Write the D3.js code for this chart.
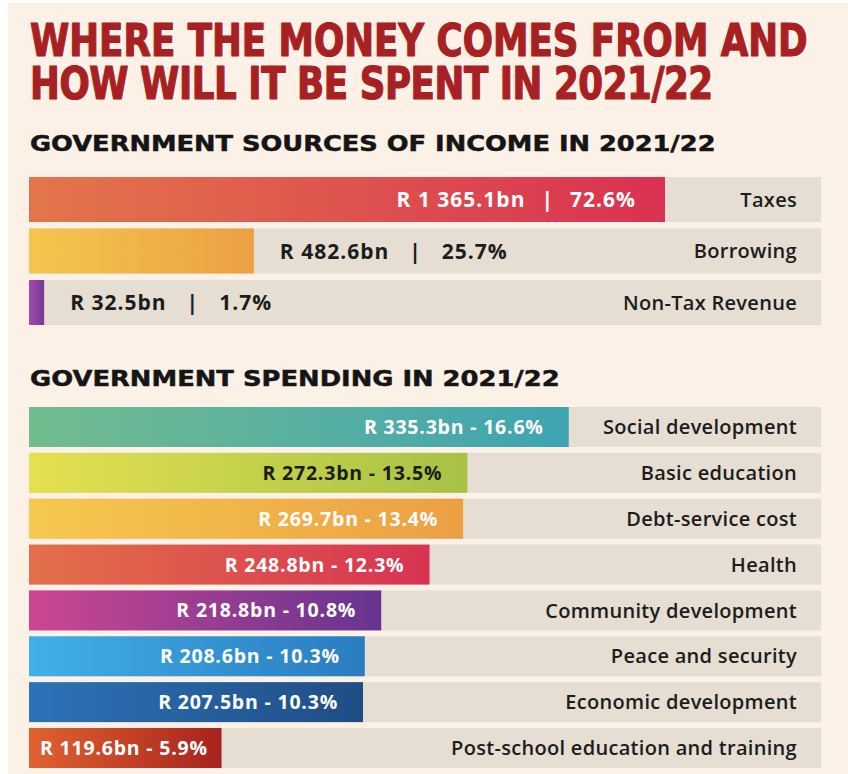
<!DOCTYPE html>
<html>
<head>
<meta charset="utf-8">
<script src="https://cdn.jsdelivr.net/npm/d3@7"></script>
<style>
  html, body { margin: 0; padding: 0; background: #ffffff; }
  svg { display: block; }
</style>
</head>
<body>
<svg id="chart" width="848" height="774"></svg>
<script>
// ---------- DATA ----------
const titleLines = ["WHERE THE MONEY COMES FROM AND", "HOW WILL IT BE SPENT IN 2021/22"];
const incomeHeading = "GOVERNMENT SOURCES OF INCOME IN 2021/22";
const spendingHeading = "GOVERNMENT SPENDING IN 2021/22";

const incomeCategories = ["Taxes", "Borrowing", "Non-Tax Revenue"];
const incomeValues = [1365.1, 482.6, 32.5];   // R billion
const incomeShares = [72.6, 25.7, 1.7];       // %

const spendingCategories = [
  "Social development", "Basic education", "Debt-service cost", "Health",
  "Community development", "Peace and security", "Economic development",
  "Post-school education and training"
];
const spendingValues = [335.3, 272.3, 269.7, 248.8, 218.8, 208.6, 207.5, 119.6]; // R billion
const spendingShares = [16.6, 13.5, 13.4, 12.3, 10.8, 10.3, 10.3, 5.9];          // %

// ---------- STYLE ----------
const incomeGradients = [
  ["#e2764a", "#da3152"],
  ["#f5c64e", "#eba043"],
  ["#a44aa6", "#74379a"]
];
const incomeLabelColors = ["#ffffff", "#1c1c1c", "#1c1c1c"];

const spendingGradients = [
  ["#72bc8e", "#3ea4b2"],
  ["#e4e050", "#a6c245"],
  ["#f6c84f", "#eb9f43"],
  ["#e2704a", "#d83352"],
  ["#cd4692", "#663490"],
  ["#40b0e8", "#2a7cc0"],
  ["#2d73b8", "#1f4d86"],
  ["#e1622f", "#a6231f"]
];
const spendingLabelColors = ["#ffffff", "#1c1c1c", "#ffffff", "#ffffff", "#ffffff", "#ffffff", "#ffffff", "#ffffff"];

const svg = d3.select("#chart");
const W = 848, H = 774;
const trackX0 = 29, trackX1 = 821;
const catRight = 797;
const labelFont = "'Open Sans', 'Noto Sans', sans-serif";
const titleFont = "'Liberation Sans Narrow', 'DejaVu Sans Condensed', 'Arial Narrow', sans-serif";

const locale = d3.formatLocale({decimal: ".", thousands: " ", grouping: [3], currency: ["R ", ""]});
const fmtBn = locale.format(",.1f");

const defs = svg.append("defs");

// background
svg.append("rect").attr("x", 0).attr("y", 0).attr("width", W).attr("height", H).attr("fill", "#ffffff");
svg.append("rect").attr("x", 8).attr("y", 3).attr("width", W - 8).attr("height", H - 3).attr("fill", "#fcf1e7");

// stretch a text horizontally so that it spans the given width
function fitText(sel, x, y, width) {
  sel.attr("x", 0).attr("y", 0);
  const len = sel.node().getComputedTextLength();
  sel.attr("transform", `translate(${x},${y}) scale(${width / len},1)`);
}

// title: one text element, two lines
const titleSize = 45;
const titleWidths = [778, 683];
function measure(txt) {
  const tmp = svg.append("text").attr("font-family", titleFont).attr("font-weight", "bold")
    .attr("font-size", titleSize).text(txt);
  const w = tmp.node().getComputedTextLength();
  tmp.remove();
  return w;
}
const n1 = measure(titleLines[0]);
const n2 = measure(titleLines[1]);
const sx = titleWidths[0] / n1;
const ls2 = (titleWidths[1] / sx - n2) / titleLines[1].length;
const title = svg.append("text")
  .attr("transform", `translate(30,56) scale(${sx},1)`)
  .attr("font-family", titleFont)
  .attr("font-weight", "bold")
  .attr("font-size", titleSize)
  .attr("fill", "#a82122")
  .attr("stroke", "#a82122")
  .attr("stroke-width", 1.2)
  .attr("stroke-linejoin", "round");
title.append("tspan").attr("x", 0).attr("y", 0).text(titleLines[0]);
title.append("tspan").attr("x", 0).attr("y", 43).attr("letter-spacing", ls2).text(titleLines[1]);

// section headings
function heading(txt, y, width) {
  const el = svg.append("text")
    .attr("font-family", "'DejaVu Sans', sans-serif")
    .attr("font-weight", "bold")
    .attr("font-size", 22)
    .attr("fill", "#151515")
    .attr("stroke", "#151515")
    .attr("stroke-width", 0.5)
    .text(txt);
  fitText(el, 30, y, width);
}
heading(incomeHeading, 151, 686);
heading(spendingHeading, 386, 530);

function gradient(id, c0, c1) {
  const g = defs.append("linearGradient").attr("id", id)
    .attr("x1", "0%").attr("x2", "100%").attr("y1", "0%").attr("y2", "0%");
  g.append("stop").attr("offset", "0%").attr("stop-color", c0);
  g.append("stop").attr("offset", "100%").attr("stop-color", c1);
}

// ---------- INCOME ----------
const incomeData = incomeCategories.map((c, i) => ({
  cat: c, value: incomeValues[i], share: incomeShares[i],
  grad: incomeGradients[i], color: incomeLabelColors[i], i
}));
const xInc = d3.scaleLinear().domain([0, 1700]).range([trackX0, trackX1]);
const yInc = d3.scaleBand().domain(incomeCategories).range([177, 325]).paddingInner(0.126).paddingOuter(0);

incomeData.forEach(d => gradient("ginc" + d.i, d.grad[0], d.grad[1]));

const incRows = svg.append("g").selectAll("g").data(incomeData).join("g")
  .attr("transform", d => `translate(0,${yInc(d.cat)})`);

incRows.append("rect")
  .attr("x", xInc(0)).attr("y", 0)
  .attr("width", xInc.range()[1] - xInc(0)).attr("height", yInc.bandwidth())
  .attr("fill", "#e6ddd3");
incRows.append("rect")
  .attr("x", xInc(0)).attr("y", 0)
  .attr("width", d => xInc(d.value) - xInc(0)).attr("height", yInc.bandwidth())
  .attr("fill", d => `url(#ginc${d.i})`);

incRows.append("text")
  .attr("x", catRight).attr("y", yInc.bandwidth() / 2).attr("dy", "0.36em")
  .attr("text-anchor", "end")
  .attr("font-family", labelFont).attr("font-weight", 600)
  .attr("font-size", 20).attr("letter-spacing", 0.3).attr("fill", "#1c1c1c")
  .text(d => d.cat);

incRows.each(function(d) {
  const g = d3.select(this);
  const barEnd = xInc(d.value);
  const inside = barEnd - xInc(0) > 300;
  const t = g.append("text")
    .attr("y", yInc.bandwidth() / 2).attr("dy", "0.36em")
    .attr("font-family", labelFont).attr("font-weight", 700)
    .attr("font-size", 21).attr("letter-spacing", 1).attr("fill", d.color)
    .attr("text-anchor", inside ? "end" : "start")
    .attr("x", inside ? barEnd - 29 : barEnd + 26);
  t.append("tspan").text("R " + fmtBn(d.value) + "bn");
  t.append("tspan").attr("dx", inside ? 16 : 20).text("|");
  t.append("tspan").attr("dx", inside ? 16 : 20).text(d.share.toFixed(1) + "%");
});

// ---------- SPENDING ----------
const spendData = spendingCategories.map((c, i) => ({
  cat: c, value: spendingValues[i], share: spendingShares[i],
  grad: spendingGradients[i], color: spendingLabelColors[i], i
}));
const xSp = d3.scaleLinear().domain([0, 492]).range([trackX0, trackX1]);
const ySp = d3.scaleBand().domain(spendingCategories).range([407, 768]).paddingInner(0.128).paddingOuter(0);

spendData.forEach(d => gradient("gsp" + d.i, d.grad[0], d.grad[1]));

const spRows = svg.append("g").selectAll("g").data(spendData).join("g")
  .attr("transform", d => `translate(0,${ySp(d.cat)})`);

spRows.append("rect")
  .attr("x", xSp(0)).attr("y", 0)
  .attr("width", xSp.range()[1] - xSp(0)).attr("height", ySp.bandwidth())
  .attr("fill", "#e6ddd3");
spRows.append("rect")
  .attr("x", xSp(0)).attr("y", 0)
  .attr("width", d => xSp(d.value) - xSp(0)).attr("height", ySp.bandwidth())
  .attr("fill", d => `url(#gsp${d.i})`);

spRows.append("text")
  .attr("x", catRight).attr("y", ySp.bandwidth() / 2).attr("dy", "0.36em")
  .attr("text-anchor", "end")
  .attr("font-family", labelFont).attr("font-weight", 600)
  .attr("font-size", 20).attr("letter-spacing", 0.3).attr("fill", "#1c1c1c")
  .text(d => d.cat);

spRows.each(function(d) {
  const g = d3.select(this);
  const barEnd = xSp(d.value);
  const t = g.append("text")
    .attr("y", ySp.bandwidth() / 2).attr("dy", "0.36em")
    .attr("font-family", labelFont).attr("font-weight", 700)
    .attr("font-size", 19.5).attr("letter-spacing", 0.8).attr("fill", d.color)
    .attr("text-anchor", "end")
    .text(`R ${fmtBn(d.value)}bn - ${d.share.toFixed(1)}%`);
  const w = t.node().getComputedTextLength();
  t.attr("x", Math.max(barEnd - 25, xSp(0) + 11 + w));
});
</script>
</body>
</html>
